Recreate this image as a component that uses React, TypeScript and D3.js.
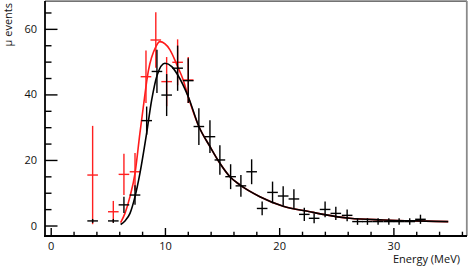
import React, { useEffect, useRef } from "react";
import * as d3 from "d3";

// bin centres (MeV) for the black histogram
const blackE = [3.67, 5.48, 6.41, 7.38, 8.40, 9.30, 10.15, 11.11, 12.04, 12.97, 13.94, 14.81, 15.75, 16.65, 17.59, 18.51, 19.42, 20.35, 21.29, 22.20, 23.06, 24.02, 24.96, 25.95, 26.86, 27.73, 28.66, 29.60, 30.50, 31.43, 32.37];
const blackV = [1.4, 1.4, 6.3, 9.3, 32, 47, 39.8, 48, 44.2, 30.2, 27.1, 20, 14.9, 12.1, 16.4, 5.2, 10.1, 9, 8.1, 3.4, 2.2, 4.9, 3.7, 3.1, 1.2, 1.2, 1.2, 1.2, 1.2, 1.2, 1.9];
const blackErr = [0.6, 0.6, 2.5, 3, 4.3, 6.6, 6.4, 6.9, 6.8, 5.6, 5, 4.5, 3.8, 3.3, 3.8, 2.1, 3.3, 3, 3, 2, 1.5, 2.4, 2, 1.8, 1, 1, 1, 1, 1, 1, 1.4];

const redE = [3.67, 5.48, 6.41, 7.38, 8.34, 9.20, 10.15, 11.11, 12.04];
const redV = [15.4, 4.2, 15.6, 16.4, 45.4, 56.6, 43.9, 49.8, 44.4];
const redErr = [15, 3.3, 6.3, 5.7, 8, 8.5, 7.5, 7, 7];

// fitted curves
const blackCurveE = [6.12, 6.5, 6.94, 7.38, 7.81, 8.4, 8.84, 9.33, 10.0, 10.6, 11.11, 12.04, 12.97, 13.94, 14.81, 15.69, 16.56, 18.31, 20.35, 22.69, 23.85, 26.19, 29.1, 32.0, 34.8];
const blackCurveV = [0.3, 1.4, 3.7, 8.8, 15.9, 28.2, 38.3, 46, 49.5, 48.5, 46, 39.3, 30.2, 24.1, 19, 14.9, 12.4, 8.8, 5.9, 4.2, 3.4, 2.2, 1.7, 1.4, 1.2];
const redCurveE = [6.12, 6.5, 6.94, 7.38, 7.81, 8.1, 8.54, 9.21, 9.56, 10.44, 11.11, 11.6, 12.04, 12.97, 13.94, 14.81, 15.69, 16.56, 18.31, 20.35, 22.69, 23.85, 26.19, 29.1, 32.0, 34.8];
const redCurveV = [0.9, 3.7, 8.8, 15.9, 28.2, 36, 47, 54.6, 56.1, 53.6, 48.5, 44.4, 39.3, 30.2, 24.1, 19, 14.9, 12.4, 8.8, 5.9, 4.2, 3.4, 2.2, 1.7, 1.4, 1.2];

const yMajor = [0, 20, 40, 60];
const yMinor = [5, 10, 15, 25, 30, 35, 45, 50, 55, 65];
const xMajor = [0, 10, 20, 30];
const xMinor = [2, 4, 6, 8, 12, 14, 16, 18, 22, 24, 26, 28, 32, 34, 36];

const W = 471;
const H = 266;
const halfBin = 0.465;

const App = () => {
    const svgRef = useRef<SVGSVGElement>(null);

    useEffect(() => {
        const x = d3.scaleLinear().domain([-0.5, 36.4]).range([45, 466.5]);
        const y = d3.scaleLinear().domain([-3.2, 68.5]).range([236, 1]);

        const svg = d3.select(svgRef.current);
        svg.selectAll("*").remove();

        const font = "'Open Sans', sans-serif";

        // axes, ROOT style ticks pointing into the frame
        const yAx = svg.append("g").attr("transform", "translate(45,0)");
        yAx.call(d3.axisLeft(y).tickValues(yMajor).tickSizeInner(-12.5).tickSizeOuter(0).tickPadding(8));
        yAx.call((g) => g.select(".domain").remove());
        yAx.selectAll("text").style("font-family", font).style("font-size", "11px").attr("fill", "#111");
        yAx.selectAll("line").attr("stroke-width", 1.4);

        const yAxMin = svg.append("g").attr("transform", "translate(45,0)");
        yAxMin.call(d3.axisLeft(y).tickValues(yMinor).tickSizeInner(-6.5).tickSizeOuter(0).tickFormat(() => ""));
        yAxMin.call((g) => g.select(".domain").remove());
        yAxMin.selectAll("line").attr("stroke-width", 1.4);

        const xAx = svg.append("g").attr("transform", "translate(0,236)");
        xAx.call(d3.axisBottom(x).tickValues(xMajor).tickSizeInner(-8).tickSizeOuter(0).tickPadding(6));
        xAx.call((g) => g.select(".domain").remove());
        xAx.selectAll("text").style("font-family", font).style("font-size", "11px").attr("fill", "#111");
        xAx.selectAll("line").attr("stroke-width", 1.4);

        const xAxMin = svg.append("g").attr("transform", "translate(0,236)");
        xAxMin.call(d3.axisBottom(x).tickValues(xMinor).tickSizeInner(-4.3).tickSizeOuter(0).tickFormat(() => ""));
        xAxMin.call((g) => g.select(".domain").remove());
        xAxMin.selectAll("line").attr("stroke-width", 1.4);

        // frame
        svg.append("line").attr("x1", 45).attr("x2", 467).attr("y1", 1.2).attr("y2", 1.2)
            .attr("stroke", "#444").attr("stroke-width", 1.2);
        svg.append("line").attr("x1", 466.8).attr("x2", 466.8).attr("y1", 1).attr("y2", 236)
            .attr("stroke", "#8a8a8a").attr("stroke-width", 1.8);
        svg.append("line").attr("x1", 45).attr("x2", 45).attr("y1", 1).attr("y2", 237)
            .attr("stroke", "#000").attr("stroke-width", 1.8);
        svg.append("line").attr("x1", 44).attr("x2", 467).attr("y1", 236).attr("y2", 236)
            .attr("stroke", "#000").attr("stroke-width", 1.8);

        const line = d3.line<[number, number]>()
            .x((d) => x(d[0]))
            .y((d) => y(d[1]))
            .curve(d3.curveMonotoneX);

        const drawPoints = (es: number[], vs: number[], errs: number[], color: string) => {
            const g = svg.append("g").attr("stroke", color).attr("stroke-width", 1.4);
            es.forEach((e, i) => {
                g.append("line").attr("x1", x(e - halfBin)).attr("x2", x(e + halfBin))
                    .attr("y1", y(vs[i])).attr("y2", y(vs[i]));
                g.append("line").attr("x1", x(e)).attr("x2", x(e))
                    .attr("y1", y(vs[i] - errs[i])).attr("y2", y(vs[i] + errs[i]));
            });
        };

        svg.append("path")
            .datum(redCurveE.map((e, i) => [e, redCurveV[i]] as [number, number]))
            .attr("d", line).attr("fill", "none").attr("stroke", "#ff1a1a").attr("stroke-width", 1.6);

        drawPoints(redE, redV, redErr, "#ff2020");
        drawPoints(blackE, blackV, blackErr, "#000");

        svg.append("path")
            .datum(blackCurveE.map((e, i) => [e, blackCurveV[i]] as [number, number]))
            .attr("d", line).attr("fill", "none").attr("stroke", "#000").attr("stroke-width", 1.6);

        // axis titles
        svg.append("text").attr("transform", "translate(12,3) rotate(-90)")
            .attr("text-anchor", "end").style("font-family", font).style("font-size", "11px")
            .attr("fill", "#111").text("μ events");
        svg.append("text").attr("x", 460).attr("y", 263)
            .attr("text-anchor", "end").style("font-family", font).style("font-size", "11px")
            .attr("fill", "#111").text("Energy (MeV)");
    }, []);

    return (
        <svg ref={svgRef} width={W} height={H}
            style={{ position: "absolute", left: 0, top: 0, background: "#fff" }}></svg>
    );
};

export default App;
